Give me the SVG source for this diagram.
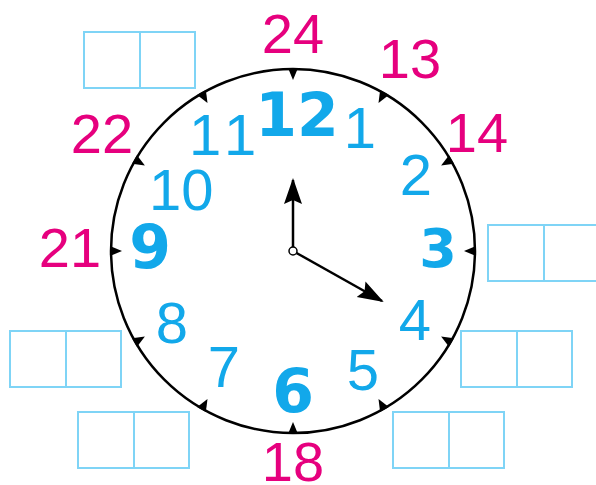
<svg xmlns="http://www.w3.org/2000/svg" width="596" height="485" viewBox="0 0 596 485">
<style>
.box{fill:none;stroke:#7fd4f6;stroke-width:2}
.red{fill:#e6007e;font-family:"Liberation Sans",Arial,sans-serif;font-size:56px;text-anchor:middle}
.blue{fill:#12a8ea;font-family:"Liberation Sans",Arial,sans-serif;font-size:58px;text-anchor:middle}
.bold{fill:#12a8ea;font-family:"DejaVu Sans",sans-serif;font-weight:bold;font-size:60px;text-anchor:middle}
.hand{stroke:#000;stroke-width:2.5;fill:none}
</style>
<defs>
<path id="tick" d="M-5,-1 L5,-1 L0,11 Z" fill="#000"/>
<g id="bx"><rect class="box" x="0" y="0" width="111" height="56"/><line class="box" x1="56" y1="0" x2="56" y2="56"/></g>
<marker id="ah" markerUnits="userSpaceOnUse" markerWidth="30" markerHeight="20" refX="24" refY="9" orient="auto" viewBox="0 0 30 20">
<path d="M0,0 L26,9 L0,18 L4,9 Z" fill="#000"/>
</marker>
</defs>
<g id="clock-face">
<circle cx="293" cy="251" r="182" fill="none" stroke="#000" stroke-width="2.5"/>
<g id="ticks">
<use href="#tick" transform="rotate(0 293 251) translate(293 69)"/>
<use href="#tick" transform="rotate(30 293 251) translate(293 69)"/>
<use href="#tick" transform="rotate(60 293 251) translate(293 69)"/>
<use href="#tick" transform="rotate(90 293 251) translate(293 69)"/>
<use href="#tick" transform="rotate(120 293 251) translate(293 69)"/>
<use href="#tick" transform="rotate(150 293 251) translate(293 69)"/>
<use href="#tick" transform="rotate(180 293 251) translate(293 69)"/>
<use href="#tick" transform="rotate(210 293 251) translate(293 69)"/>
<use href="#tick" transform="rotate(240 293 251) translate(293 69)"/>
<use href="#tick" transform="rotate(270 293 251) translate(293 69)"/>
<use href="#tick" transform="rotate(300 293 251) translate(293 69)"/>
<use href="#tick" transform="rotate(330 293 251) translate(293 69)"/>
</g>
</g>
<g id="hands">
<line class="hand" x1="293" y1="247" x2="293" y2="180" marker-end="url(#ah)"/>
<line class="hand" x1="296.5" y1="253" x2="382" y2="301" marker-end="url(#ah)"/>
<circle cx="293" cy="251" r="4" fill="#fff" stroke="#000" stroke-width="1.5"/>
</g>
<g id="hours">
<text class="bold" x="297" y="136">12</text>
<text class="blue" x="360" y="148">1</text>
<text class="blue" x="189" y="155" style="text-anchor:start">1<tspan dx="7">1</tspan></text>
<text class="blue" x="149" y="210" style="text-anchor:start">10</text>
<text class="blue" x="416" y="195">2</text>
<text class="bold" x="438" y="267" style="font-size:54px">3</text>
<text class="bold" x="150" y="268">9</text>
<text class="blue" x="415" y="340">4</text>
<text class="blue" x="363" y="390">5</text>
<text class="bold" x="293" y="412">6</text>
<text class="blue" x="224" y="387">7</text>
<text class="blue" x="172" y="343">8</text>
</g>
<g id="hours24">
<text class="red" x="293" y="53">24</text>
<text class="red" x="410" y="78">13</text>
<text class="red" x="477" y="152">14</text>
<text class="red" x="102" y="153">22</text>
<text class="red" x="70" y="267">21</text>
<text class="red" x="293" y="481">18</text>
</g>
<g id="box-top-left"><use href="#bx" transform="translate(84 32)"/></g>
<g id="box-right-3"><use href="#bx" transform="translate(488 225)"/></g>
<g id="box-right-4"><use href="#bx" transform="translate(461 331)"/></g>
<g id="box-left-8"><use href="#bx" transform="translate(10 331)"/></g>
<g id="box-bottom-left"><use href="#bx" transform="translate(78 412)"/></g>
<g id="box-bottom-right"><use href="#bx" transform="translate(393 412)"/></g>
</svg>
